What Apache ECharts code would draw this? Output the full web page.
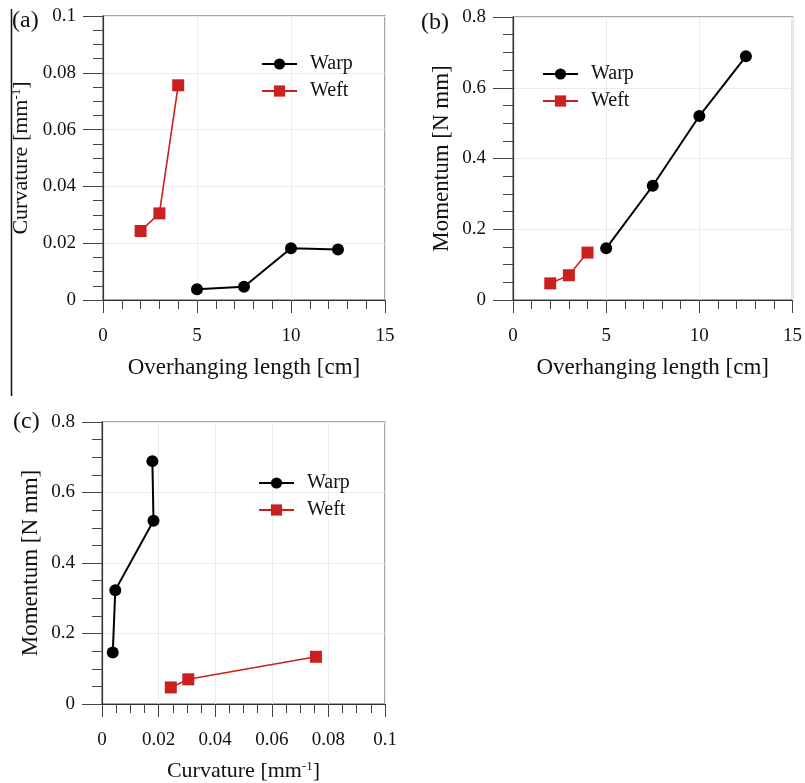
<!DOCTYPE html>
<html><head><meta charset="utf-8">
<script src="https://cdn.jsdelivr.net/npm/echarts@6/dist/echarts.min.js"></script>
<style>html,body{margin:0;padding:0;background:#fff}#c{width:805px;height:783px}</style>
</head><body><div id="c"></div>
<script>
// ---- data ----
const lengthWarp = [5, 7.5, 10, 12.5];
const curvatureWarp = [0.0038, 0.0047, 0.0182, 0.0178];
const momentumWarp = [0.146, 0.323, 0.520, 0.689];
const lengthWeft = [2, 3, 4];
const curvatureWeft = [0.0243, 0.0305, 0.0756];
const momentumWeft = [0.047, 0.070, 0.134];
const seriesNames = ['Warp', 'Weft'];
const panelLabels = ['(a)', '(b)', '(c)'];
const xTitles = ['Overhanging length [cm]', 'Overhanging length [cm]', 'Curvature [mm{sup|-1}]'];
const yTitles = ['Curvature [mm{sup|-1}]', 'Momentum [N mm]', 'Momentum [N mm]'];

const FONT = 'Liberation Serif';
const RED = '#cc1f1f';
const pair = (a, b) => a.map((v, i) => [v, b[i]]);

const grids = [
  {left: 103, top: 16, width: 282, height: 284},
  {left: 513, top: 17, width: 283, height: 283},
  {left: 102, top: 422, width: 283, height: 282}
].map(g => Object.assign(g, {show: true, borderColor: '#888', borderWidth: 1.5, backgroundColor: 'transparent'}));

const richSup = {sup: {fontSize: 13, fontFamily: FONT, verticalAlign: 'top', lineHeight: 22, padding: [0, 0, 0, 0]}};

function xAxis(i, max, interval, minorSplit, nameGap, nameSize) {
  return {
    type: 'value', gridIndex: i, min: 0, max: max, interval: interval,
    name: xTitles[i], nameLocation: 'middle', nameGap: nameGap,
    nameTextStyle: {fontFamily: FONT, fontSize: nameSize, color: '#111', rich: richSup},
    axisLine: {show: true, onZero: false, lineStyle: {color: '#333', width: 1.2}},
    axisTick: {show: true, inside: false, length: 13, lineStyle: {color: '#444', width: 1}},
    minorTick: {show: true, splitNumber: minorSplit, length: 9, lineStyle: {color: '#444', width: 1}},
    axisLabel: {fontFamily: FONT, fontSize: 19, color: '#111', margin: 27},
    splitLine: {show: true, lineStyle: {color: '#ececec', width: 1}}
  };
}
function yAxis(i, max, interval, minorSplit, nameGap, nameSize) {
  return {
    type: 'value', gridIndex: i, min: 0, max: max, interval: interval,
    name: yTitles[i], nameLocation: 'middle', nameGap: nameGap,
    nameTextStyle: {fontFamily: FONT, fontSize: nameSize, color: '#111', rich: richSup},
    axisLine: {show: true, onZero: false, lineStyle: {color: '#333', width: 1.2}},
    axisTick: {show: true, inside: false, length: 20, lineStyle: {color: '#444', width: 1}},
    minorTick: {show: true, splitNumber: minorSplit, length: 10, lineStyle: {color: '#444', width: 1}},
    axisLabel: {fontFamily: FONT, fontSize: 19, color: '#111', margin: 27},
    splitLine: {show: true, lineStyle: {color: '#ececec', width: 1}}
  };
}

function warpSeries(i, data) {
  return {type: 'line', name: seriesNames[0], xAxisIndex: i, yAxisIndex: i, data: data,
    symbol: 'circle', symbolSize: 12, showSymbol: true,
    lineStyle: {color: '#000', width: 2}, itemStyle: {color: '#000'}, z: 3};
}
function weftSeries(i, data) {
  return {type: 'line', name: seriesNames[1], xAxisIndex: i, yAxisIndex: i, data: data,
    symbol: 'rect', symbolSize: 12, showSymbol: true,
    lineStyle: {color: RED, width: 1.6}, itemStyle: {color: RED}, z: 3};
}

function legend(left, top) {
  return {data: seriesNames, orient: 'vertical', left: left, top: top, padding: 0,
    itemWidth: 35, itemHeight: 14, itemGap: 7, selectedMode: false,
    textStyle: {fontFamily: FONT, fontSize: 20, color: '#111', lineHeight: 20, padding: [0, 0, 0, 8]}};
}

const option = {
  animation: false,
  backgroundColor: '#fff',
  grid: grids,
  xAxis: [xAxis(0, 15, 5, 5, 56, 23), xAxis(1, 15, 5, 5, 56, 23), xAxis(2, 0.1, 0.02, 4, 56, 22)],
  yAxis: [yAxis(0, 0.1, 0.02, 4, 71, 22), yAxis(1, 0.8, 0.2, 4, 60, 23), yAxis(2, 0.8, 0.2, 4, 60, 23)],
  legend: [legend(261, 54), legend(542, 64), legend(258, 473)],
  series: [
    warpSeries(0, pair(lengthWarp, curvatureWarp)),
    weftSeries(0, pair(lengthWeft, curvatureWeft)),
    warpSeries(1, pair(lengthWarp, momentumWarp)),
    weftSeries(1, pair(lengthWeft, momentumWeft)),
    warpSeries(2, pair(curvatureWarp, momentumWarp)),
    weftSeries(2, pair(curvatureWeft, momentumWeft))
  ],
  graphic: [
    {type: 'line', shape: {x1: 11.5, y1: 9, x2: 11.5, y2: 396}, style: {stroke: '#111', lineWidth: 1.5}},
    {type: 'text', left: 12, top: 9, style: {text: panelLabels[0], font: '24px "Liberation Serif"', fill: '#111'}},
    {type: 'text', left: 421, top: 11, style: {text: panelLabels[1], font: '24px "Liberation Serif"', fill: '#111'}},
    {type: 'text', left: 13, top: 410, style: {text: panelLabels[2], font: '24px "Liberation Serif"', fill: '#111'}}
  ]
};
const chart = echarts.init(document.getElementById('c'));
chart.setOption(option);
</script></body></html>
